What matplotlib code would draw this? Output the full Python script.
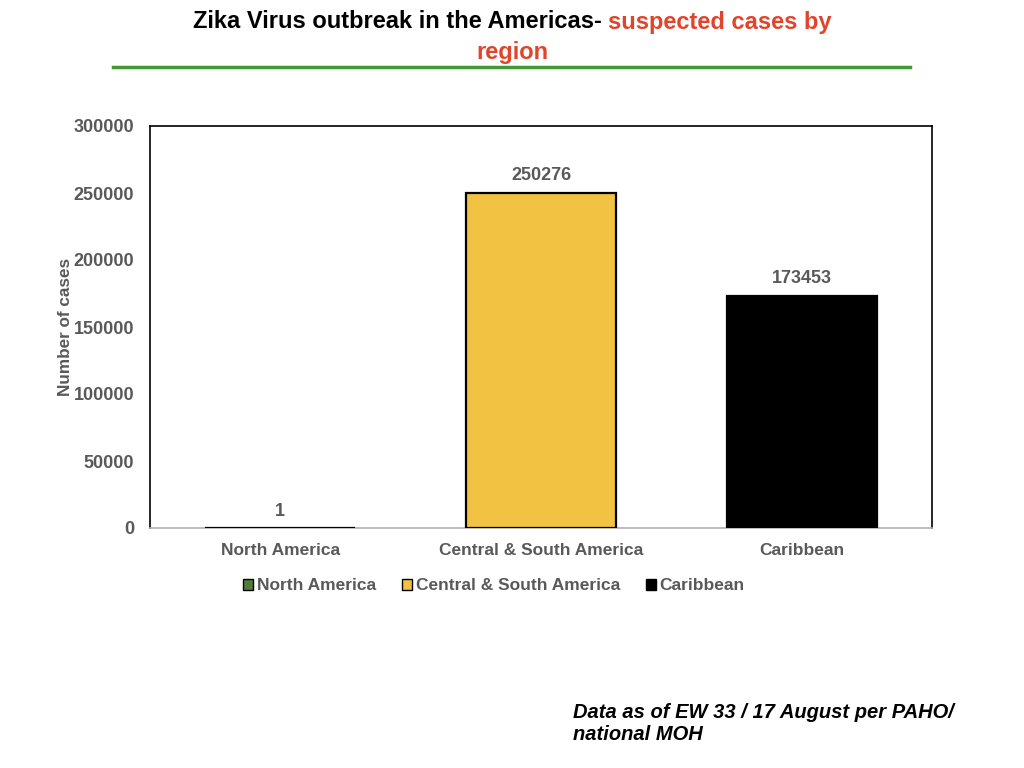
import matplotlib
matplotlib.use("Agg")
import matplotlib.pyplot as plt
from matplotlib.patches import Patch
from matplotlib.lines import Line2D

categories = ["North America", "Central & South America", "Caribbean"]
values = [1, 250276, 173453]
colors = ["#547d3a", "#f2c343", "#000000"]
yticks = [0, 50000, 100000, 150000, 200000, 250000, 300000]

plt.rcParams['font.family'] = ['Liberation Sans', 'DejaVu Sans']
gray = "#595959"

fig = plt.figure(figsize=(10.24, 7.68), dpi=100)
ax = fig.add_axes([150/1024, 1-528/768, 782/1024, 402/768])

x = range(len(categories))
bars = ax.bar(x, values, width=0.575, color=colors, edgecolor="black", linewidth=1.6,
              zorder=3)
ax.set_xlim(-0.5, 2.5)
ax.set_ylim(0, 300000)
ax.set_yticks(yticks)
ax.set_yticklabels([str(v) for v in yticks], fontsize=13, fontweight='bold', color=gray)
ax.set_xticks(list(x))
ax.set_xticklabels(categories, fontsize=12.5, fontweight='bold', color=gray)
ax.tick_params(axis='both', length=0)
ax.tick_params(axis='x', pad=11)
ax.tick_params(axis='y', pad=11.5)
for s in ['top', 'left', 'right']:
    ax.spines[s].set_color('black')
    ax.spines[s].set_linewidth(1.2)
ax.spines['bottom'].set_color('#b0b0b0')
ax.spines['bottom'].set_linewidth(1.2)
ax.set_ylabel("Number of cases", fontsize=12.3, fontweight='bold', color=gray, labelpad=0.5)

for xi, v in zip(x, values):
    ax.annotate(str(v), (xi, v), xytext=(0, 12), textcoords='offset points',
                ha='center', va='center', fontsize=13, fontweight='bold', color=gray)

handles = [Patch(facecolor=c, edgecolor='black', linewidth=1.0) for c in colors]
fig.legend(handles, categories, loc='center', bbox_to_anchor=(494/1024, 1-586/768),
           ncol=3, frameon=False, handlelength=0.58, handleheight=0.58,
           handletextpad=0.2, columnspacing=1.5,
           prop={'size': 12.5, 'weight': 'bold'}, labelcolor=gray)

# Title in two colours
gap = 6
t1 = fig.text(0, 1-22/768, "Zika Virus outbreak in the Americas-", fontsize=17,
              fontweight='bold', color='black', ha='left', va='center')
t2 = fig.text(0, 1-22/768, "suspected cases by", fontsize=17,
              fontweight='bold', color='#e0452c', ha='left', va='center')
fig.canvas.draw()
r = fig.canvas.get_renderer()
w1 = t1.get_window_extent(r).width
w2 = t2.get_window_extent(r).width
start = 512 - (w1 + gap + w2) / 2
t1.set_x(start / 1024)
t2.set_x((start + w1 + gap) / 1024)
fig.text(512/1024, 1-52/768, "region", fontsize=17, fontweight='bold',
         color='#e0452c', ha='center', va='center')

fig.add_artist(Line2D([113/1024, 910/1024], [1-67/768, 1-67/768], color='#3f9a2f',
                      linewidth=2.5, transform=fig.transFigure))

fig.text(573/1024, 1-724/768, "Data as of EW 33 / 17 August per PAHO/\nnational MOH",
         fontsize=14.5, fontweight='bold', style='italic', color='black',
         ha='left', va='center', linespacing=1.2)

fig.savefig("out.png", dpi=100)
